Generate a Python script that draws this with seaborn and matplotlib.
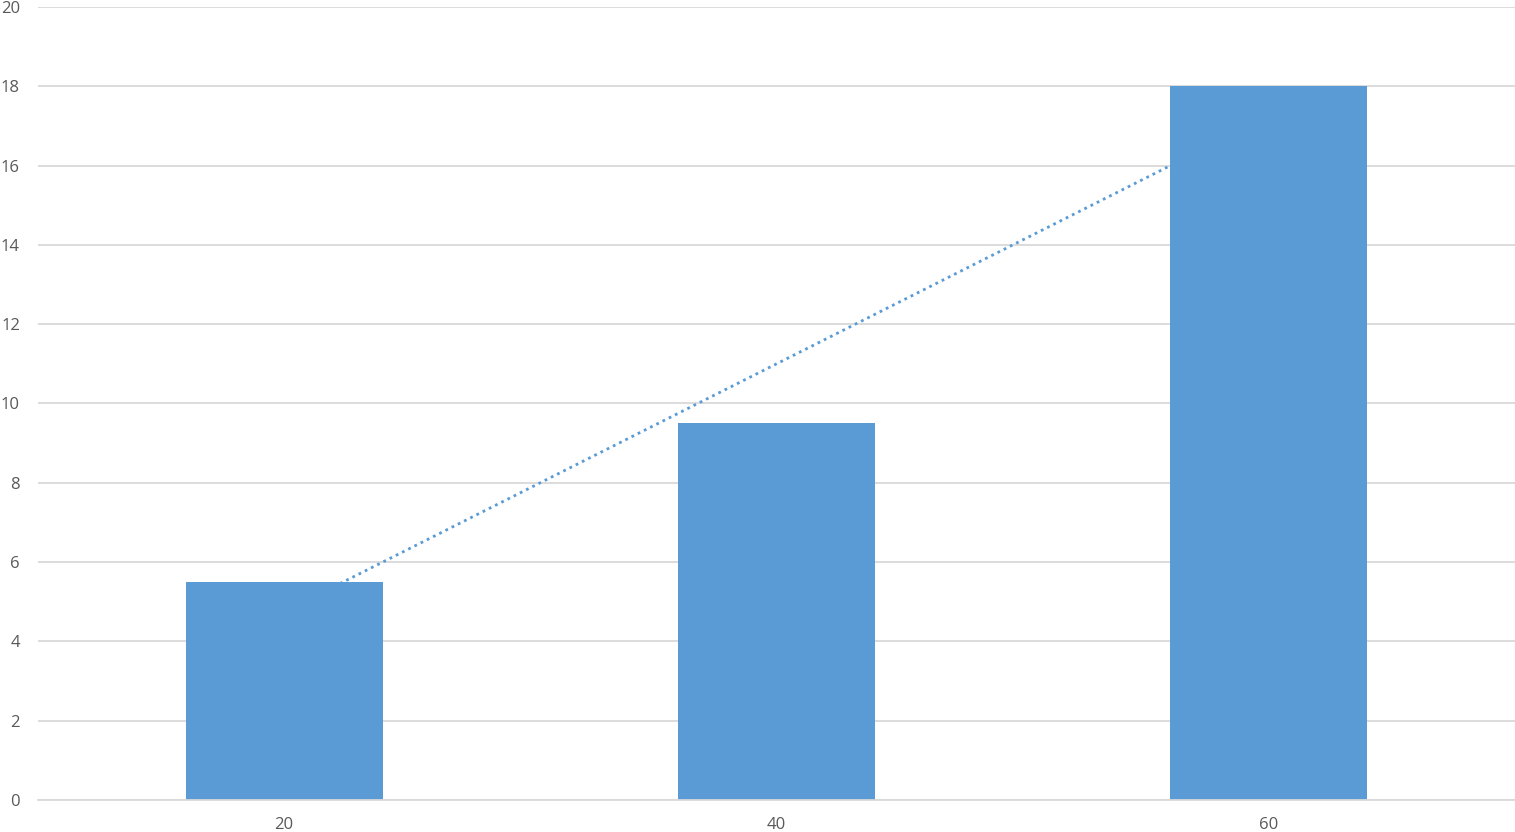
import numpy as np
import pandas as pd
import seaborn as sns
import matplotlib.pyplot as plt

# Data
categories = ["20", "40", "60"]
values = [5.5, 9.5, 18]
y_ticks = [0, 2, 4, 6, 8, 10, 12, 14, 16, 18, 20]

bar_color = "#5B9BD5"
grid_color = "#D9D9D9"
text_color = "#595959"

df = pd.DataFrame({"category": categories, "value": values, "pos": range(len(categories))})

sns.set_style("white")
plt.rcParams["font.family"] = ["Open Sans", "DejaVu Sans"]

fig = plt.figure(figsize=(15.15, 8.32), dpi=100)
ax = fig.add_axes([38 / 1515, 32 / 832, 1477 / 1515, 793 / 832])

# linear trendline, drawn behind the bars
sns.regplot(data=df, x="pos", y="value", scatter=False, ci=None, truncate=True,
            color=bar_color, ax=ax,
            line_kws=dict(linestyle=(0, (1, 1.5)), linewidth=2, zorder=1))

sns.barplot(data=df, x="category", y="value", color=bar_color, width=0.4,
            saturation=1, linewidth=0, ax=ax, zorder=2)

ax.set_xlim(-0.5, 2.5)
ax.set_ylim(0, 20)
ax.set_yticks(y_ticks)
ax.set_xticks(range(len(categories)))
ax.set_xticklabels(categories)
ax.set_xlabel("")
ax.set_ylabel("")

ax.yaxis.grid(True, color=grid_color, linewidth=1.3, zorder=0)
ax.set_axisbelow(True)
for s in ["top", "right", "left"]:
    ax.spines[s].set_visible(False)
ax.spines["bottom"].set_color(grid_color)
ax.spines["bottom"].set_linewidth(1.3)
ax.spines["bottom"].set_zorder(3)

# ticks at category centers and boundaries, pointing up
ax.set_xticks([-0.5, 0.5, 1.5, 2.5], minor=True)
ax.tick_params(axis="x", which="both", direction="in", length=5, width=1.3,
               color=grid_color, labelsize=12, labelcolor=text_color, pad=12)
ax.tick_params(axis="y", length=0, labelsize=12, labelcolor=text_color, pad=13)

fig.savefig("out.png", dpi=100)
